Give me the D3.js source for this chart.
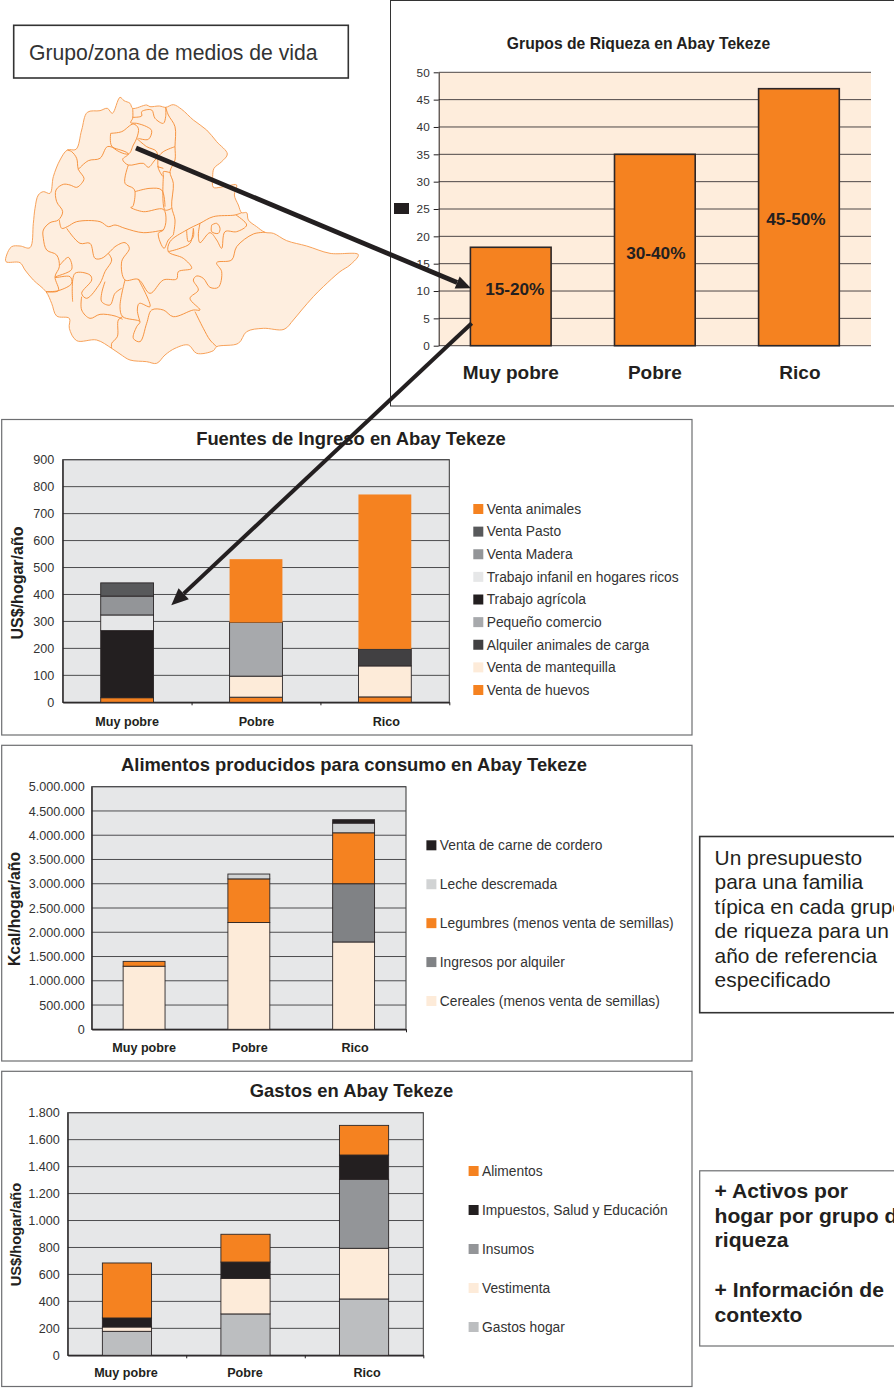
<!DOCTYPE html>
<html lang="es">
<head>
<meta charset="utf-8">
<title>Abay Tekeze</title>
<script src="https://cdn.jsdelivr.net/npm/d3@7/dist/d3.min.js"></script>
<style>
  html, body { margin: 0; padding: 0; background: #fff; overflow: hidden; }
  svg { display: block; font-family: "Liberation Sans", Arial, sans-serif; }
  text { fill: #231f20; }
</style>
</head>
<body>
<svg id="lamina" width="894" height="1389" viewBox="0 0 894 1389"></svg>
<script>
// ---------- Data ----------
const wealthGroups = ["Muy pobre", "Pobre", "Rico"];

const riquezaValues = [18, 35, 47];
const riquezaLabels = ["15-20%", "30-40%", "45-50%"];

const ingresoSeries = ["Venta de huevos", "Venta de mantequilla", "Alquiler animales de carga",
  "Pequeño comercio", "Trabajo agrícola", "Trabajo infanil en hogares ricos",
  "Venta Madera", "Venta Pasto", "Venta animales"];
const ingresoHuevos = [17, 19, 20];
const ingresoMantequilla = [0, 78, 115];
const ingresoAlquiler = [0, 0, 63];
const ingresoComercio = [0, 199, 0];
const ingresoAgricola = [249, 0, 0];
const ingresoInfantil = [58, 0, 0];
const ingresoMadera = [70, 0, 0];
const ingresoPasto = [49, 0, 0];
const ingresoAnimales = [0, 235, 573];

const alimentoSeries = ["Cereales (menos venta de semillas)", "Ingresos por alquiler",
  "Legumbres (menos venta de semillas)", "Leche descremada", "Venta de carne de cordero"];
const alimentoCereales = [1300000, 2200000, 1800000];
const alimentoAlquiler = [0, 0, 1200000];
const alimentoLegumbres = [100000, 900000, 1050000];
const alimentoLeche = [0, 100000, 200000];
const alimentoCarne = [0, 0, 70000];

const gastoSeries = ["Gastos hogar", "Vestimenta", "Insumos", "Impuestos, Salud y Educación", "Alimentos"];
const gastoHogar = [178, 307, 418];
const gastoVestimenta = [32, 264, 376];
const gastoInsumos = [0, 0, 512];
const gastoImpuestos = [67, 121, 180];
const gastoAlimentos = [408, 206, 220];

const presupuestoLines = ["Un presupuesto", "para una familia", "típica en cada grupo",
  "de riqueza para un", "año de referencia", "especificado"];
const activosLines = ["+ Activos por", "hogar por grupo de", "riqueza", "", "+ Información de", "contexto"];

// Administrative map traced on a 1200 x 900 grid
const mapOutline = [[360,52],[372,62],[390,70],[398,85],[440,75],[450,80],[478,78],[497,82],[520,74],[545,88],[580,120],[620,150],[650,185],[682,222],[665,245],[642,265],[638,290],[640,322],[660,322],[690,316],[710,315],[703,345],[715,375],[725,398],[740,398],[745,420],[770,440],[795,457],[820,460],[860,482],[920,498],[990,520],[1075,524],[1050,555],[1020,575],[970,620],[940,650],[905,690],[880,720],[852,748],[790,745],[740,755],[715,790],[650,800],[640,812],[590,820],[565,795],[525,805],[495,825],[470,850],[440,845],[390,840],[360,822],[335,805],[290,780],[230,782],[208,745],[208,715],[170,708],[155,670],[138,635],[100,600],[75,570],[60,548],[18,545],[20,525],[35,500],[60,498],[90,503],[100,430],[105,385],[115,345],[130,335],[150,340],[160,290],[180,240],[202,210],[228,208],[245,150],[262,97],[300,92],[322,85],[337,100]];
const mapBorders = [
  [[202,210],[215,215],[230,235],[235,268],[252,295],[245,310],[230,322],[210,315],[190,313],[168,330],[170,365],[188,395],[175,420],[150,428],[130,450],[130,475],[140,510],[170,525],[178,560],[165,590],[175,632],[138,635]],
  [[235,268],[265,242],[300,235],[322,200],[345,205],[385,222],[368,238],[385,255],[430,250],[445,262],[465,240],[490,215],[525,200]],
  [[332,160],[365,155],[400,132],[415,145],[410,175],[400,195],[385,222],[335,198],[332,160]],
  [[398,85],[398,115],[392,128],[410,130],[440,140],[455,152],[445,178],[415,175]],
  [[398,112],[425,108],[425,95],[455,90],[465,115],[490,130],[497,110],[497,82]],
  [[497,82],[505,105],[525,140],[525,200],[525,240],[510,275],[520,310],[515,380],[525,420],[520,465]],
  [[410,175],[440,200],[470,215],[475,265],[490,290],[490,275],[510,278]],
  [[472,260],[490,265]],
  [[385,255],[375,310],[400,325],[405,335],[398,380],[392,382],[430,395],[490,388],[498,420],[490,450],[475,460],[492,505],[505,480],[520,465]],
  [[405,335],[450,325],[485,330],[495,380]],
  [[490,290],[495,390],[515,385]],
  [[178,420],[185,445],[202,440],[230,425],[300,425],[325,440],[345,435],[375,445],[430,458],[490,450]],
  [[200,445],[240,490],[270,490],[285,535],[305,535],[330,515],[345,500],[375,488],[388,505],[365,545],[375,600],[415,598],[450,640],[490,600],[530,597],[535,575],[575,565],[550,535],[505,515],[510,485],[560,450],[600,430],[640,410],[705,405],[725,398]],
  [[505,515],[540,505],[570,490],[580,445]],
  [[375,600],[360,680],[368,710],[420,725],[410,740],[400,775],[420,785],[440,730],[455,690],[490,690],[520,710],[580,690],[600,690],[570,655],[595,630],[580,600],[590,588],[610,595],[630,622],[655,622],[665,575],[650,548],[695,540],[710,500],[760,462],[795,457]],
  [[585,695],[610,745],[630,780],[650,800]],
  [[368,710],[355,720],[352,770],[335,790],[335,805]],
  [[415,598],[450,680],[418,670],[412,690],[420,725]],
  [[138,635],[175,632],[215,610],[210,590],[165,592],[215,568],[205,532],[180,555]],
  [[218,665],[225,580],[270,585],[275,600],[245,640],[260,655],[300,610],[315,575],[335,540],[325,520]],
  [[245,650],[245,690],[270,715],[300,703],[345,708],[368,718]],
  [[315,605],[305,640],[305,665],[330,675],[345,640],[365,625]],
  [[600,430],[595,465],[600,488],[630,458],[650,480],[665,505],[675,455],[710,455],[740,435],[708,405]],
  [[560,450],[565,485],[580,470],[580,445]],
  [[635,435],[650,430],[660,445],[655,460],[635,455],[635,435]]
];

// ---------- Palette ----------
const INK = "#231f20", ORANGE = "#f58220", CREAM = "#fdebd9", PANEL = "#e6e7e8";

const svg = d3.select("#lamina");
const esLocale = d3.formatLocale({ decimal: ",", thousands: ".", grouping: [3], currency: ["", "$"] });
const thousands = esLocale.format(",d");

function frame(x0, y0, x1, y1, stroke, width) {
  svg.append("rect").attr("x", x0).attr("y", y0).attr("width", x1 - x0).attr("height", y1 - y0)
    .attr("fill", "#fff").attr("stroke", stroke).attr("stroke-width", width);
}

// Three equal columns with the gap split evenly around each bar
function columns(left, right, gap) {
  return d3.scaleBand().domain(wealthGroups).range([left, right]).paddingInner(gap).paddingOuter(gap / 2);
}

// ---------- Map ----------
function drawMap() {
  const mx = d3.scaleLinear().domain([0, 1200]).range([0, 400]);
  const my = d3.scaleLinear().domain([0, 900]).range([80, 380]);
  const closed = d3.line().x(d => mx(d[0])).y(d => my(d[1])).curve(d3.curveCatmullRomClosed.alpha(0.5));
  const open = d3.line().x(d => mx(d[0])).y(d => my(d[1])).curve(d3.curveCatmullRom.alpha(0.5));
  const g = svg.append("g");
  g.append("path").attr("d", closed(mapOutline)).attr("fill", "#feeedf")
    .attr("stroke", "#f8a25a").attr("stroke-width", 1);
  g.selectAll("path.border").data(mapBorders).join("path").attr("class", "border")
    .attr("d", open).attr("fill", "none").attr("stroke", "#f58a30").attr("stroke-width", 0.9);
}

// ---------- Wealth group bars ----------
function drawRiqueza() {
  frame(390.5, 0.5, 900, 406, "#333", 1);
  const x = columns(438.7, 871, 0.44);
  const y = d3.scaleLinear().domain([0, 50]).range([345.7, 72.3]);
  svg.append("text").attr("x", 638.5).attr("y", 49).attr("text-anchor", "middle")
    .attr("font-size", 15.7).attr("font-weight", 700).text("Grupos de Riqueza en Abay Tekeze");
  svg.append("rect").attr("x", 438.7).attr("y", y(50)).attr("width", 432.3).attr("height", y(0) - y(50)).attr("fill", "#feeddc");
  svg.append("g").selectAll("line").data(y.ticks(10)).join("line")
    .attr("x1", 438.7).attr("x2", 871).attr("y1", d => y(d)).attr("y2", d => y(d))
    .attr("stroke", "#4d4646").attr("stroke-width", 1);
  const axis = svg.append("g").attr("transform", "translate(438.7,0)")
    .call(d3.axisLeft(y).ticks(10).tickSize(5).tickSizeOuter(0).tickPadding(4));
  axis.select(".domain").attr("stroke", INK);
  axis.selectAll(".tick line").attr("stroke", INK);
  axis.selectAll("text").attr("font-size", 11.8).attr("font-family", "Liberation Sans").style("fill", "#333");
  svg.append("g").selectAll("rect").data(wealthGroups).join("rect")
    .attr("x", d => x(d)).attr("width", x.bandwidth())
    .attr("y", (d, i) => y(riquezaValues[i])).attr("height", (d, i) => y(0) - y(riquezaValues[i]))
    .attr("fill", ORANGE).attr("stroke", "#2d2728").attr("stroke-width", 1.6);
  const labelAnchor = [10.3, 16.9, 23.2], labelShift = [4, 1, -3];
  svg.append("g").selectAll("text").data(riquezaLabels).join("text")
    .attr("x", (d, i) => x(wealthGroups[i]) + x.bandwidth() / 2 + labelShift[i])
    .attr("y", (d, i) => y(labelAnchor[i])).attr("dy", "0.35em").attr("text-anchor", "middle")
    .attr("font-size", 17.2).attr("font-weight", 700).text(d => d);
  const groupShift = [0, 0, 1];
  svg.append("g").selectAll("text").data(wealthGroups).join("text")
    .attr("x", (d, i) => x(d) + x.bandwidth() / 2 + groupShift[i]).attr("y", 379)
    .attr("text-anchor", "middle").attr("font-size", 19).attr("font-weight", 700).text(d => d);
  svg.append("rect").attr("x", 394).attr("y", 203).attr("width", 15).attr("height", 11).attr("fill", INK);
}

// ---------- Stacked panels ----------
function stackedPanel(c) {
  frame(c.box[0], c.box[1], c.box[2], c.box[3], "#6d6e71", 1.2);
  const rows = wealthGroups.map((g, i) => {
    const row = { group: g };
    c.series.forEach((s, k) => { row[s] = c.values[k][i]; });
    return row;
  });
  const stacked = d3.stack().keys(c.series)(rows);
  const x = columns(c.left, c.right, c.padding);
  const y = d3.scaleLinear().domain([0, c.max]).range([c.bottom, c.top]);

  svg.append("text").attr("x", c.titleX).attr("y", c.titleY).attr("text-anchor", "middle")
    .attr("font-size", 18.4).attr("font-weight", 700).text(c.title);
  svg.append("rect").attr("x", c.left).attr("y", c.top).attr("width", c.right - c.left)
    .attr("height", c.bottom - c.top).attr("fill", PANEL).attr("stroke", "#333").attr("stroke-width", 1);
  const ticks = d3.range(0, c.max + c.step / 2, c.step);
  svg.append("g").selectAll("line").data(ticks).join("line")
    .attr("x1", c.left).attr("x2", c.right).attr("y1", d => y(d)).attr("y2", d => y(d))
    .attr("stroke", "#4d4d4f").attr("stroke-width", 1);

  const axisY = svg.append("g").attr("transform", `translate(${c.left},0)`)
    .call(d3.axisLeft(y).tickValues(ticks).tickSize(0).tickPadding(c.tickPad).tickFormat(thousands));
  axisY.select(".domain").attr("stroke", INK);
  axisY.selectAll("text").attr("font-size", c.tickSize).attr("font-family", "Liberation Sans").style("fill", "#333");

  const axisX = svg.append("g").attr("transform", `translate(0,${c.bottom})`)
    .call(d3.axisBottom(d3.scaleLinear().domain([0, 3]).range([c.left, c.right]))
      .tickValues(c.xTicks).tickSize(3).tickSizeOuter(0).tickFormat(""));
  axisX.select(".domain").attr("stroke", INK).attr("stroke-width", 1.3);
  axisX.selectAll(".tick line").attr("stroke", INK);

  svg.append("g").selectAll("g").data(stacked).join("g")
    .attr("fill", d => c.colors[d.index])
    .attr("stroke", d => c.unlined && c.unlined.includes(d.key) ? "none" : "#2b2627")
    .attr("stroke-width", 0.9)
    .selectAll("rect").data(d => d.filter(p => p[1] > p[0])).join("rect")
    .attr("x", d => x(d.data.group)).attr("width", x.bandwidth())
    .attr("y", d => y(d[1])).attr("height", d => y(d[0]) - y(d[1]));

  svg.append("g").selectAll("text").data(wealthGroups).join("text")
    .attr("x", (d, i) => x(d) + x.bandwidth() / 2 + c.catShift[i]).attr("y", c.catY)
    .attr("text-anchor", "middle").attr("font-size", 12.6).attr("font-weight", 700).text(d => d);

  svg.append("text").attr("transform", `translate(${c.yLabel[0]},${c.yLabel[1]}) rotate(-90)`)
    .attr("text-anchor", "middle").attr("font-size", c.yLabelSize).attr("font-weight", 700).text(c.yTitle);

  const keyY = d3.scalePoint().domain(c.series.slice().reverse()).range(c.legendY);
  const key = svg.append("g").selectAll("g").data(c.series).join("g")
    .attr("transform", d => `translate(${c.legendX},${keyY(d)})`);
  key.append("rect").attr("x", 0).attr("y", -5).attr("width", 10).attr("height", 10)
    .attr("fill", (d, i) => c.colors[i]);
  key.append("text").attr("x", 13.4).attr("dy", "0.35em").attr("font-size", 13.8).style("fill", "#333").text(d => d);
}

// ---------- Side notes ----------
function noteLines(lines, x, y0, dy, size, weight) {
  svg.append("g").selectAll("text").data(lines).join("text")
    .attr("x", x).attr("y", (d, i) => y0 + i * dy)
    .attr("font-size", size).attr("font-weight", weight).text(d => d);
}

// ---------- Leader arrows ----------
function arrow(from, to, width, headLen, headHalf) {
  const [x0, y0] = from, [x1, y1] = to;
  const len = Math.hypot(x1 - x0, y1 - y0), ux = (x1 - x0) / len, uy = (y1 - y0) / len;
  const bx = x1 - ux * headLen, by = y1 - uy * headLen;
  svg.append("line").attr("x1", x0).attr("y1", y0).attr("x2", bx).attr("y2", by)
    .attr("stroke", INK).attr("stroke-width", width);
  svg.append("path").attr("fill", INK)
    .attr("d", d3.line()([[x1, y1], [bx - uy * headHalf, by + ux * headHalf], [bx + uy * headHalf, by - ux * headHalf]]) + "Z");
}

// ---------- Page ----------
frame(13.7, 25.3, 348.3, 78, "#333", 1.6);
svg.append("text").attr("x", 29).attr("y", 60).attr("font-size", 21.2).style("fill", "#333").text("Grupo/zona de medios de vida");

drawMap();
drawRiqueza();

stackedPanel({
  box: [1.7, 419.5, 692, 735], left: 62.7, right: 449.3, top: 459.7, bottom: 702.3,
  padding: 0.59, max: 900, step: 100, tickPad: 8.5, tickSize: 12.6, xTicks: [1, 2, 3],
  title: "Fuentes de Ingreso en Abay Tekeze", titleX: 351, titleY: 445,
  yTitle: "US$/hogar/año", yLabel: [22.5, 583], yLabelSize: 16,
  catY: 725.5, catShift: [0, 0.5, 1.5],
  series: ingresoSeries,
  values: [ingresoHuevos, ingresoMantequilla, ingresoAlquiler, ingresoComercio, ingresoAgricola,
    ingresoInfantil, ingresoMadera, ingresoPasto, ingresoAnimales],
  colors: [ORANGE, CREAM, "#414042", "#a7a9ac", INK, PANEL, "#939598", "#58595b", ORANGE],
  unlined: ["Venta animales"],
  legendX: 473.3, legendY: [509, 690]
});

stackedPanel({
  box: [1.7, 745.3, 692, 1061], left: 91.7, right: 406, top: 786.7, bottom: 1029.3,
  padding: 0.6, max: 5000000, step: 500000, tickPad: 7, tickSize: 12.6, xTicks: [3],
  title: "Alimentos producidos para consumo en Abay Tekeze", titleX: 354, titleY: 771,
  yTitle: "Kcal/hogar/año", yLabel: [20, 909], yLabelSize: 15.8,
  catY: 1051.7, catShift: [0, 1, 1.5],
  series: alimentoSeries,
  values: [alimentoCereales, alimentoAlquiler, alimentoLegumbres, alimentoLeche, alimentoCarne],
  colors: [CREAM, "#808285", ORANGE, "#d1d3d4", INK],
  legendX: 426.4, legendY: [845.3, 1001]
});

stackedPanel({
  box: [1.7, 1071.3, 692, 1386.5], left: 67.7, right: 423.3, top: 1112.7, bottom: 1355.3,
  padding: 0.585, max: 1800, step: 200, tickPad: 8, tickSize: 12.6, xTicks: [1, 2, 3],
  title: "Gastos en Abay Tekeze", titleX: 351.5, titleY: 1097,
  yTitle: "US$/hogar/año", yLabel: [20.5, 1234.5], yLabelSize: 14.7,
  catY: 1377, catShift: [-1, -0.5, 3],
  series: gastoSeries,
  values: [gastoHogar, gastoVestimenta, gastoInsumos, gastoImpuestos, gastoAlimentos],
  colors: ["#bcbec0", CREAM, "#939598", INK, ORANGE],
  legendX: 468.6, legendY: [1171, 1327]
});

frame(699.7, 836.5, 900, 1012.7, "#333", 1.6);
noteLines(presupuestoLines, 714.6, 864.5, 24.55, 20.9, 400);

frame(699.7, 1170.8, 900, 1346, "#6d6e71", 1.2);
noteLines(activosLines, 714.6, 1198, 24.7, 21.1, 700);

arrow([136, 148], [471, 288.3], 4.8, 15, 6.5);
arrow([471.7, 323.3], [171.3, 605.3], 4, 17, 7.5);
</script>
</body>
</html>
